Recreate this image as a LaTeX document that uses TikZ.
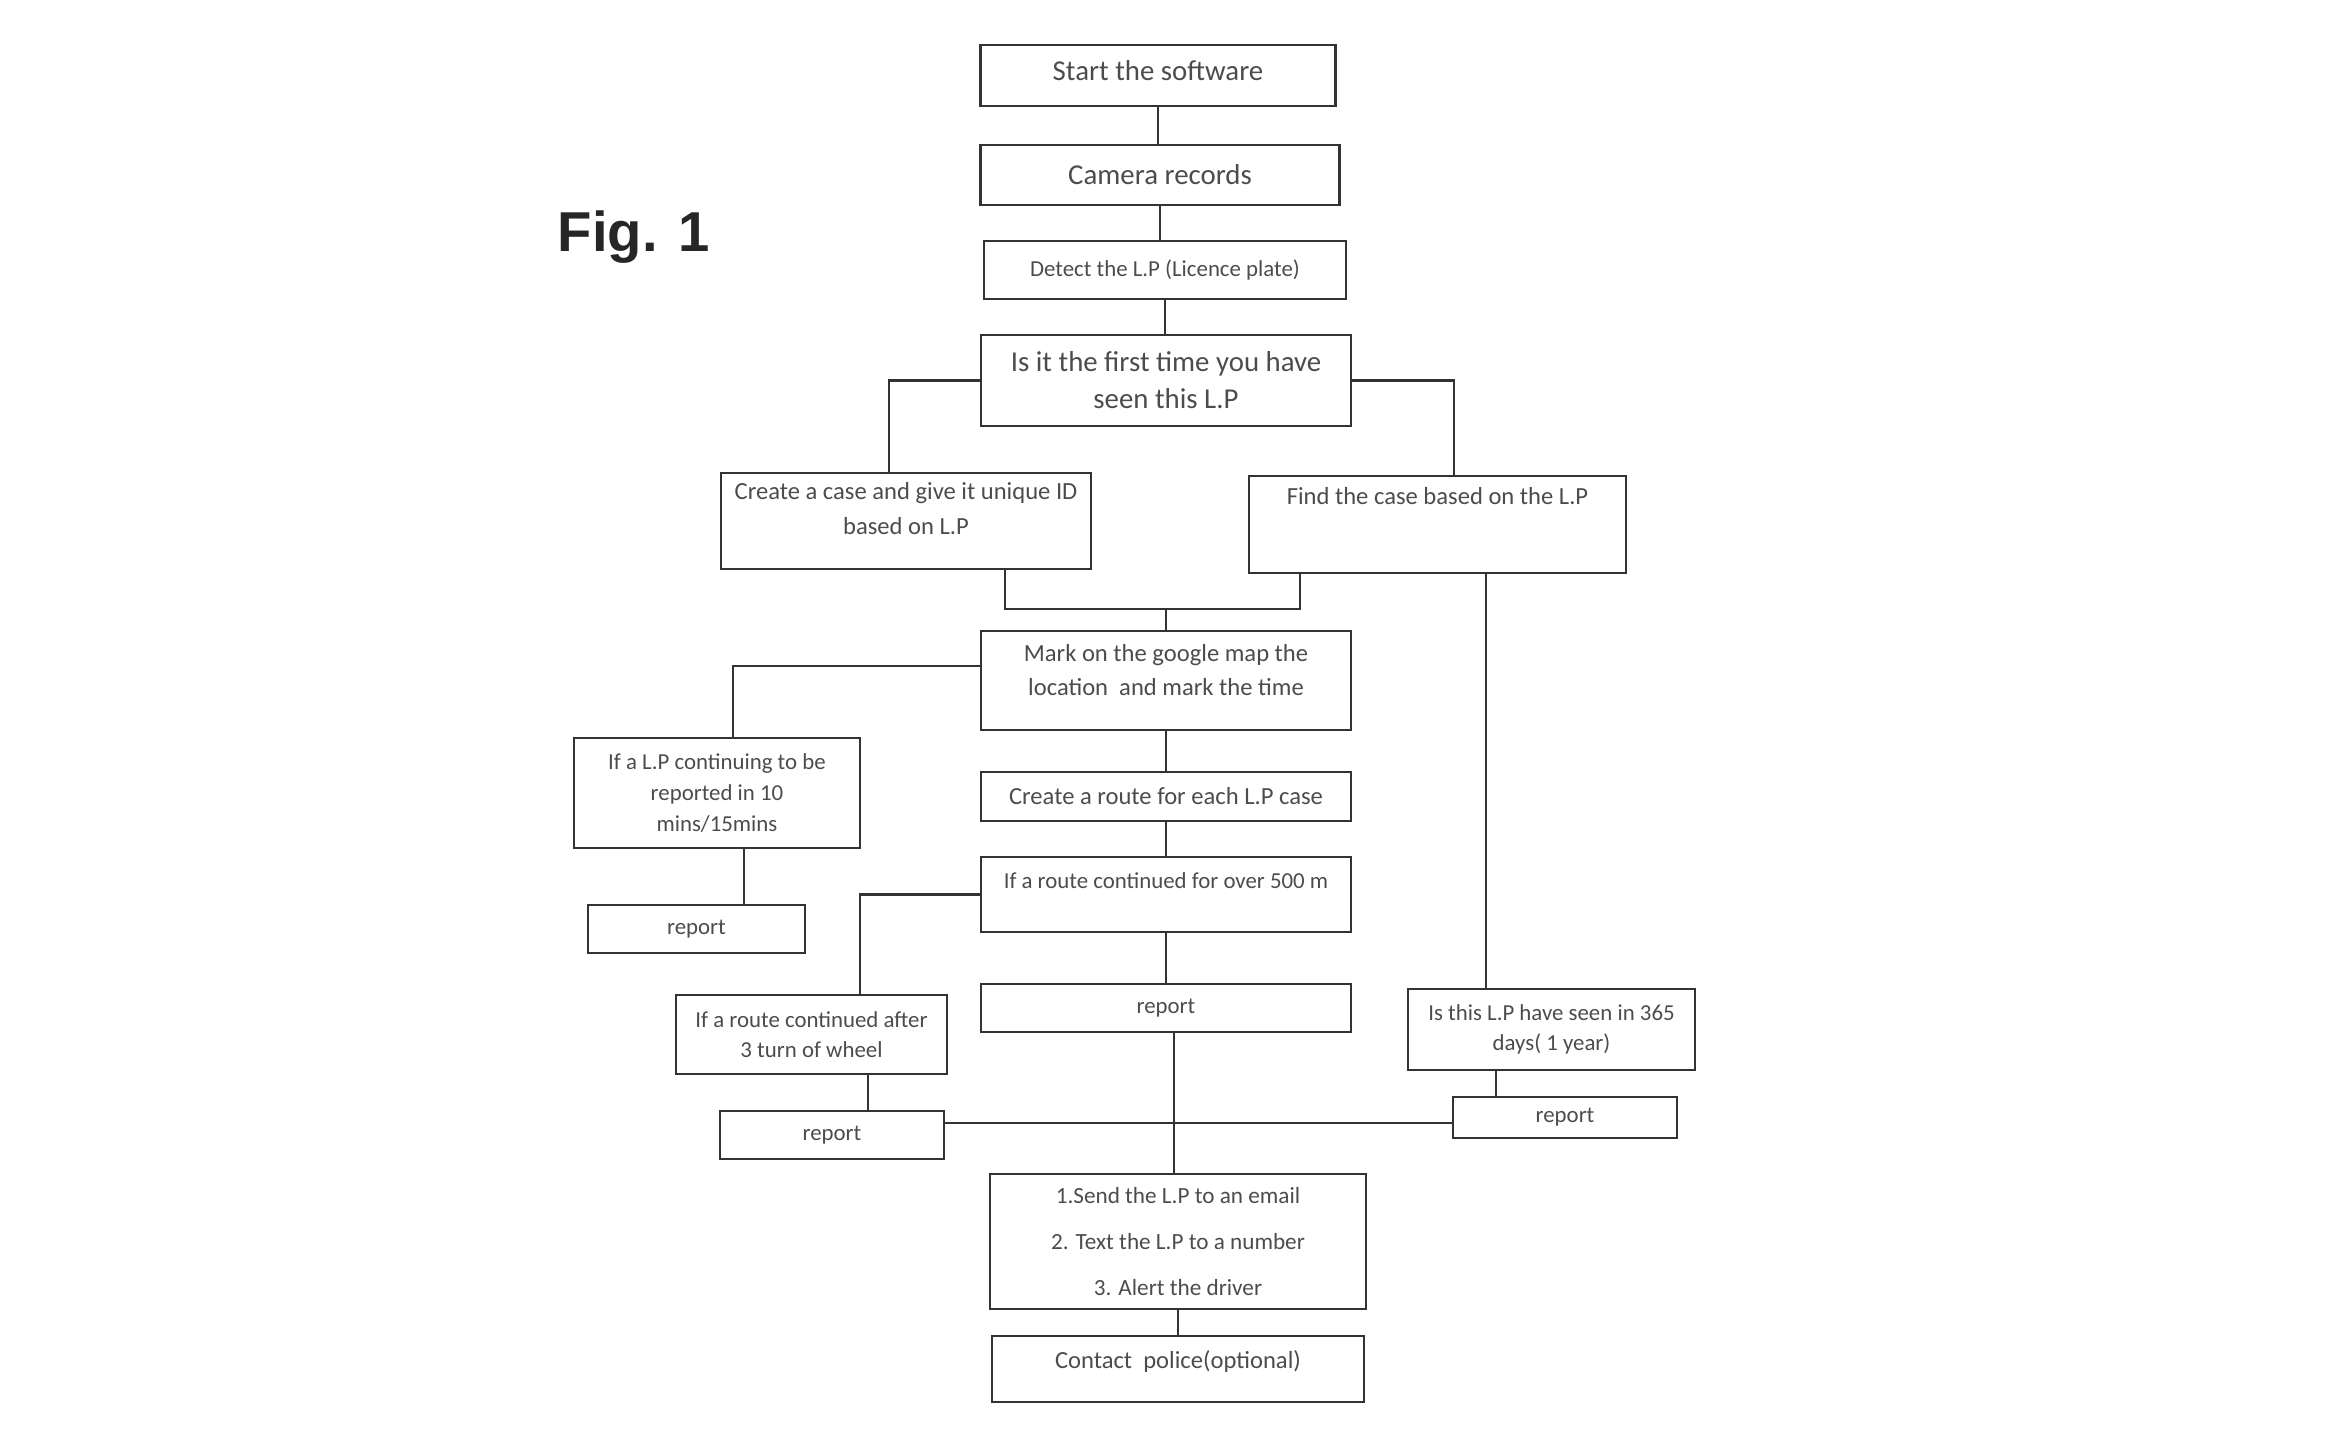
\documentclass[tikz,border=0pt]{standalone}
\usepackage{fontspec}
\setmainfont{Carlito}
\newfontfamily\figfont{Liberation Sans}
\usetikzlibrary{calc}

\newcommand{\bigtxt}{\fontsize{8.2}{10.6}\selectfont}
\newcommand{\midtxt}{\fontsize{7}{9.8}\selectfont}
\newcommand{\smalltxt}{\fontsize{6.5}{8.7}\selectfont}

\begin{document}
\begin{tikzpicture}[
  box/.style={draw=black!80, line width=0.75pt, text=black!70, align=center, inner sep=1pt},
  link/.style={draw=black!80, line width=0.7pt},
  lift/.style={text depth=#1}
]
\useasboundingbox (0,0) rectangle (23.46,14.50);

\node[font={\figfont\bfseries\fontsize{16}{18}\selectfont}, text=black!85] (fig) at (6.34,12.13) {Fig. 1};

% main column
\node[box, font=\bigtxt, minimum width=3.55cm, minimum height=0.61cm, lift=3pt] (start) at (11.58,13.745) {Start the software};
\node[box, font=\bigtxt, minimum width=3.59cm, minimum height=0.60cm] (camera) at (11.60,12.75) {Camera records};
\node[box, font=\smalltxt, minimum width=3.62cm, minimum height=0.58cm] (detect) at (11.65,11.80) {Detect the L.P (Licence plate)};
\node[box, font=\bigtxt, minimum width=3.70cm, minimum height=0.91cm] (first) at (11.66,10.695) {Is it the first time you have\\seen this L.P};
\node[box, font=\midtxt, minimum width=3.70cm, minimum height=0.96cm, lift=7pt] (create) at (9.06,9.29) {Create a case and give it unique ID\\based on L.P};
\node[box, font=\midtxt, minimum width=3.77cm, minimum height=0.97cm, lift=16pt] (find) at (14.375,9.255) {Find the case based on the L.P};
\node[box, font=\midtxt, minimum width=3.70cm, minimum height=0.99cm, lift=6pt] (mark) at (11.66,7.695) {Mark on the google map the\\location\ \ and mark the time};
\node[box, font=\smalltxt, minimum width=2.86cm, minimum height=1.10cm] (lpcont) at (7.17,6.57) {If a L.P continuing to be\\reported in 10\\mins/15mins};
\node[box, font=\smalltxt, minimum width=2.17cm, minimum height=0.48cm] (rep1) at (6.965,5.21) {report};
\node[box, font=\midtxt, minimum width=3.70cm, minimum height=0.49cm] (route) at (11.66,6.535) {Create a route for each L.P case};
\node[box, font=\smalltxt, minimum width=3.70cm, minimum height=0.75cm, lift=8pt] (far) at (11.66,5.555) {If a route continued for over 500 m};
\node[box, font=\smalltxt, minimum width=2.71cm, minimum height=0.79cm] (turn) at (8.115,4.155) {If a route continued after\\3 turn of wheel};
\node[box, font=\smalltxt, minimum width=3.70cm, minimum height=0.48cm] (rep2) at (11.66,4.42) {report};
\node[box, font=\smalltxt, minimum width=2.87cm, minimum height=0.81cm] (year) at (15.515,4.205) {Is this L.P have seen in 365\\days( 1 year)};
\node[box, font=\smalltxt, minimum width=2.24cm, minimum height=0.41cm] (rep4) at (15.65,3.325) {report};
\node[box, font=\smalltxt, minimum width=2.24cm, minimum height=0.48cm] (rep3) at (8.32,3.15) {report};
\node[box, font={\fontsize{6.6}{13}\selectfont}, minimum width=3.76cm, minimum height=1.35cm] (alert) at (11.78,2.085) {1.Send the L.P to an email\\2. Text the L.P to a number\\3. Alert the driver};
\node[box, font=\midtxt, minimum width=3.72cm, minimum height=0.66cm, lift=5.5pt] (police) at (11.78,0.81) {Contact\ \ police(optional)};

% connectors
\draw[link] (start.south) -- (start.south |- camera.north);
\draw[link] (camera.south) -- (camera.south |- detect.north);
\draw[link] (detect.south) -- (detect.south |- first.north);
\draw[link] (first.west) -| ($(create.north)+(-0.17,0)$);
\draw[link] (first.east) -| ($(find.north)+(0.165,0)$);
\coordinate (merge) at (11.66,8.41);
\draw[link] ($(create.south)+(0.99,0)$) |- (merge);
\draw[link] ($(find.south)+(-1.375,0)$) |- (merge);
\draw[link] (merge) -- (mark.north);
\draw[link] ($(find.south)+(0.485,0)$) coordinate (fdrop) -- (fdrop |- year.north);
\draw[link] ($(mark.west)+(0,0.145)$) -| ($(lpcont.north)+(0.16,0)$);
\draw[link] ($(lpcont.south)+(0.27,0)$) coordinate (cdrop) -- (cdrop |- rep1.north);
\draw[link] (mark.south) -- (route.north);
\draw[link] (route.south) -- (far.north);
\draw[link] (far.west) -| ($(turn.north)+(0.485,0)$);
\draw[link] (far.south) -- (rep2.north);
\draw[link] ($(turn.south)+(0.565,0)$) coordinate (tdrop) -- (tdrop |- rep3.north);
\draw[link] ($(year.south)+(-0.555,0)$) coordinate (ydrop) -- (ydrop |- rep4.north);
\coordinate (bus) at (11.74,3.27);
\draw[link] (rep3.east |- bus) -- (rep4.west |- bus);
\draw[link] ($(rep2.south)+(0.08,0)$) coordinate (rdrop) -- (rdrop |- alert.north);
\draw[link] (alert.south) -- (alert.south |- police.north);
\end{tikzpicture}
\end{document}
